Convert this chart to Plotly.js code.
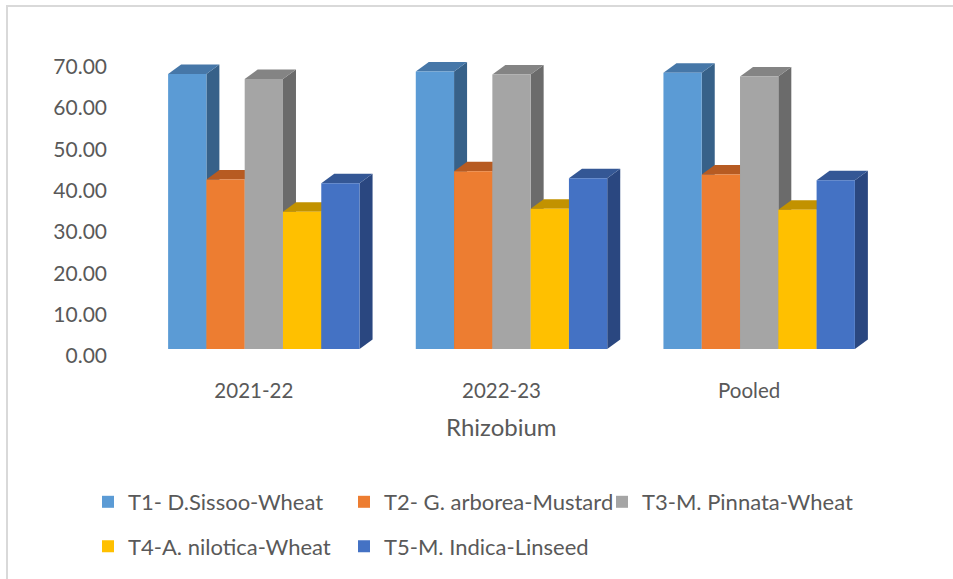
<!DOCTYPE html>
<html>
<head>
<meta charset="utf-8">
<script src="https://cdn.plot.ly/plotly-3.0.1.min.js"></script>
<style>
  html, body { margin: 0; padding: 0; background: #ffffff; overflow: hidden; }
  #wrap { position: relative; width: 953px; height: 579px; }
  #chart { width: 953px; height: 579px; }
  #frame { position: absolute; left: 6px; top: 5px; width: 1000px; height: 700px;
           border-left: 2px solid #d9d9d9; border-top: 2px solid #d9d9d9; pointer-events: none; }
</style>
</head>
<body>
<div id="wrap">
  <div id="chart"></div>
  <div id="frame"></div>
</div>
<script>
// ---- data ----
const categories = ['2021-22', '2022-23', 'Pooled'];
const seriesNames = [
  'T1- D.Sissoo-Wheat',
  'T2- G. arborea-Mustard',
  'T3-M. Pinnata-Wheat',
  'T4-A. nilotica-Wheat',
  'T5-M. Indica-Linseed'
];
const t1 = [66.5, 67.1, 66.8];
const t2 = [41.0, 43.0, 42.2];
const t3 = [65.3, 66.4, 65.9];
const t4 = [33.2, 33.9, 33.7];
const t5 = [40.1, 41.3, 40.8];
const yTickVals = [0, 10, 20, 30, 40, 50, 60, 70];
const yTickText = ['0.00', '10.00', '20.00', '30.00', '40.00', '50.00', '60.00', '70.00'];

// ---- styles ----
const frontColors = ['#5b9bd5', '#ed7d31', '#a5a5a5', '#ffc000', '#4472c4'];
const topColors   = ['#4677a8', '#b75b22', '#848484', '#c29200', '#345795'];
const sideColors  = ['#376189', '#a9531f', '#6b6b6b', '#b08500', '#2a4780'];
const allSeries = [t1, t2, t3, t4, t5];
const xPos = categories.map((c, i) => i);

const bargap = 0.227;
const nS = allSeries.length;
const barW = (1 - bargap) / nS;
const depthX = 0.0525;   // depth offset in category units
const depthY = 2.3;      // depth offset in value units
const font = 'Lato, "Open Sans", sans-serif';
const txtColor = '#595959';

// 3D side and top faces derived from the data values
const shapes = [];
xPos.forEach((xc, ci) => {
  allSeries.forEach((s, j) => {
    const v = s[ci];
    const xl = xc - (1 - bargap) / 2 + j * barW;
    const xr = xl + barW;
    shapes.push({
      type: 'path', xref: 'x', yref: 'y', layer: 'below',
      path: `M${xr},0 L${xr + depthX},${depthY} L${xr + depthX},${v + depthY} L${xr},${v} Z`,
      fillcolor: sideColors[j], line: { width: 0 }
    });
    shapes.push({
      type: 'path', xref: 'x', yref: 'y', layer: 'below',
      path: `M${xl},${v} L${xl + depthX},${v + depthY} L${xr + depthX},${v + depthY} L${xr},${v} Z`,
      fillcolor: topColors[j], line: { width: 0 }
    });
  });
});

const legendIds = ['legend', 'legend2', 'legend3', 'legend4', 'legend5'];
const traces = allSeries.map((s, j) => ({
  type: 'bar',
  name: seriesNames[j],
  x: xPos,
  y: s,
  marker: { color: frontColors[j], line: { width: 0 } },
  legend: legendIds[j],
  hoverinfo: 'skip'
}));

const plotL = 140, plotR = 70, plotT = 40, plotB = 230;
const plotW = 953 - plotL - plotR;
const plotH = 579 - plotT - plotB;
const yMax = plotH / 4.134;
const baseY = 579 - plotB;
const px2x = px => (px - plotL) / plotW;
const py2y = py => (baseY - py) / plotH;

// legend placement (text start px, row centre px)
const legTextX = [127, 383, 641, 127, 383];
const legRowY  = [502, 502, 502, 546.5, 546.5];

const layout = {
  width: 953,
  height: 579,
  margin: { l: plotL, r: plotR, t: plotT, b: plotB },
  paper_bgcolor: '#ffffff',
  plot_bgcolor: '#ffffff',
  barmode: 'group',
  bargap: bargap,
  bargroupgap: 0,
  showlegend: true,
  font: { family: font, size: 21, color: txtColor },
  xaxis: {
    type: 'linear',
    range: [-0.5, 2.5],
    tickvals: xPos,
    ticktext: categories,
    showgrid: false, zeroline: false, showline: false, ticks: '',
    ticklabelstandoff: 27,
    ticklabelshift: -10,
    tickfont: { family: font, size: 20.5, color: txtColor },
    fixedrange: true
  },
  yaxis: {
    range: [0, yMax],
    tickvals: yTickVals,
    ticktext: yTickText,
    showgrid: false, zeroline: false, showline: false, ticks: '',
    ticklabelstandoff: 32,
    ticklabelshift: 7,
    tickfont: { family: font, size: 21, color: txtColor },
    fixedrange: true
  },
  annotations: [{
    text: 'Rhizobium',
    xref: 'paper', yref: 'paper',
    x: px2x(501.7), y: py2y(427),
    xanchor: 'center', yanchor: 'middle',
    showarrow: false,
    font: { family: font, size: 24, color: txtColor }
  }],
  shapes: shapes
};

legendIds.forEach((id, j) => {
  layout[id] = {
    orientation: 'h',
    xanchor: 'left',
    yanchor: 'middle',
    x: px2x(legTextX[j] - 39),
    y: py2y(legRowY[j]),
    font: { family: font, size: 22, color: txtColor },
    bgcolor: 'rgba(0,0,0,0)'
  };
});

Plotly.newPlot('chart', traces, layout, { displayModeBar: false, staticPlot: true });
</script>
</body>
</html>
